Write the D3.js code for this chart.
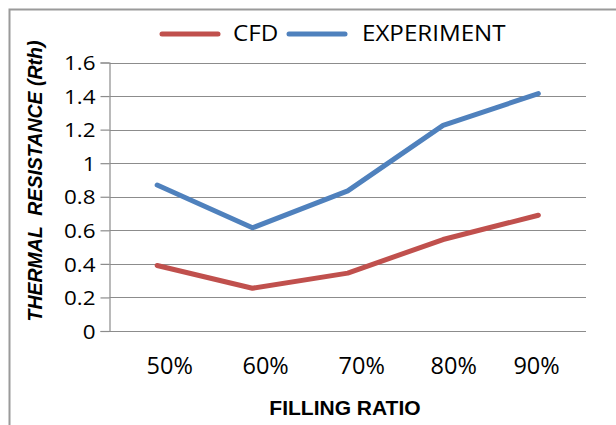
<!DOCTYPE html>
<html>
<head>
<meta charset="utf-8">
<script src="https://cdn.jsdelivr.net/npm/d3@7"></script>
<style>
  html, body { margin: 0; padding: 0; background: #fff; }
  svg { display: block; }
</style>
</head>
<body>
<svg id="chart" width="616" height="425"></svg>
<script>
// Filling ratio categories and thermal resistance values
const categories = ["50%", "60%", "70%", "80%", "90%"];
const cfdValues = [0.39, 0.255, 0.345, 0.545, 0.69];
const experimentValues = [0.87, 0.615, 0.835, 1.225, 1.415];
const yTicks = [0, 0.2, 0.4, 0.6, 0.8, 1, 1.2, 1.4, 1.6];
const seriesNames = ["CFD", "EXPERIMENT"];
const seriesColors = ["#C0504D", "#4F81BD"];

const svg = d3.select("#chart");
const W = 616, H = 425;
const plot = { left: 109.5, right: 586, top: 62.5, bottom: 331 };
const labelFont = "'Open Sans', sans-serif";
const titleFont = "'Liberation Sans', Arial, sans-serif";

// Widen a text element horizontally by factor k, keeping it real text
function widen(sel, k) {
  sel.each(function () {
    const w = this.getComputedTextLength();
    d3.select(this)
      .attr("textLength", w * k)
      .attr("lengthAdjust", "spacingAndGlyphs");
  });
}

// Chart frame (top and left edges)
svg.append("path")
  .attr("d", `M9.5,${H} V9.5 H${W}`)
  .attr("fill", "none")
  .attr("stroke", "#9a9a9a")
  .attr("stroke-width", 2);

const x = d3.scaleBand().domain(categories).range([plot.left, plot.right]);
const y = d3.scaleLinear().domain([0, 1.6]).range([plot.bottom, plot.top]);

// Horizontal gridlines
svg.append("g")
  .selectAll("line")
  .data(yTicks)
  .join("line")
  .attr("x1", plot.left)
  .attr("x2", plot.right)
  .attr("y1", d => Math.round(y(d)) + 0.5)
  .attr("y2", d => Math.round(y(d)) + 0.5)
  .attr("stroke", "#8c8c8c")
  .attr("stroke-width", 1.2);

// Y axis
const yAxis = svg.append("g")
  .attr("transform", `translate(${plot.left},0)`)
  .call(d3.axisLeft(y).tickValues(yTicks).tickSize(9).tickPadding(5)
    .tickFormat(d => String(d)));
yAxis.select(".domain").attr("stroke", "#8c8c8c").attr("stroke-width", 1.2);
yAxis.selectAll(".tick line").attr("stroke", "#8c8c8c").attr("stroke-width", 1.2);
yAxis.selectAll(".tick text")
  .attr("fill", "#000")
  .attr("dy", "0.36em")
  .style("font-family", labelFont)
  .style("font-size", "20px")
  .call(widen, 1.12);

// X axis (labels only, baseline drawn by the zero gridline)
const labelShift = [12.6, 13.2, 14, 10.6, -1.8];
const xAxis = svg.append("g")
  .attr("transform", `translate(0,${plot.bottom})`)
  .call(d3.axisBottom(x).tickSize(0).tickPadding(0));
xAxis.select(".domain").remove();
xAxis.selectAll(".tick text")
  .attr("fill", "#000")
  .attr("y", 43)
  .attr("dy", null)
  .attr("dx", (d, i) => labelShift[i])
  .style("font-family", labelFont)
  .style("font-size", "23.5px");

// Series lines
const series = [cfdValues, experimentValues];
const line = d3.line()
  .x((d, i) => x(categories[i]) + x.bandwidth() / 2)
  .y(d => y(d));
svg.append("g")
  .selectAll("path")
  .data(series)
  .join("path")
  .attr("d", d => line(d))
  .attr("fill", "none")
  .attr("stroke", (d, i) => seriesColors[i])
  .attr("stroke-width", 5)
  .attr("stroke-linecap", "round")
  .attr("stroke-linejoin", "round");

// Legend
const legendItems = [
  { x1: 162, x2: 218, tx: 233 },
  { x1: 289, x2: 345, tx: 362 }
];
const legend = svg.append("g");
legendItems.forEach((it, i) => {
  legend.append("line")
    .attr("x1", it.x1).attr("x2", it.x2)
    .attr("y1", 34).attr("y2", 34)
    .attr("stroke", seriesColors[i])
    .attr("stroke-width", 5)
    .attr("stroke-linecap", "round");
  legend.append("text")
    .attr("x", it.tx).attr("y", 40.5)
    .style("font-family", labelFont)
    .style("font-size", "21px")
    .attr("fill", "#000")
    .text(seriesNames[i])
    .call(widen, 1.15);
});

// Axis titles
svg.append("text")
  .attr("x", 345).attr("y", 415)
  .attr("text-anchor", "middle")
  .style("font-family", titleFont)
  .style("font-weight", "bold")
  .style("font-size", "21px")
  .text("FILLING RATIO");

svg.append("text")
  .attr("transform", "translate(42,181) rotate(-90)")
  .attr("text-anchor", "middle")
  .attr("xml:space", "preserve")
  .style("white-space", "pre")
  .style("font-family", titleFont)
  .style("font-weight", "bold")
  .style("font-style", "italic")
  .style("font-size", "19.5px")
  .text("THERMAL  RESISTANCE (Rth)");
</script>
</body>
</html>
